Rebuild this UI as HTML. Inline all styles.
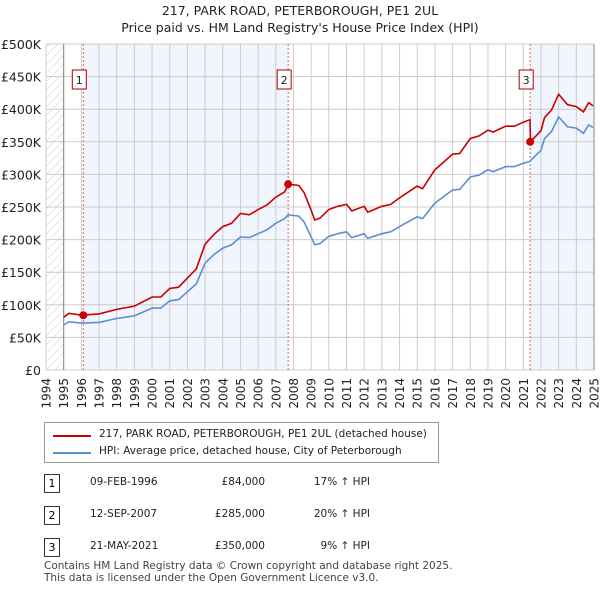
<!DOCTYPE html>
<html><head><meta charset="utf-8"><style>
body{margin:0;background:#fff;font-family:"DejaVu Sans","Liberation Sans",sans-serif;}
#wrap{position:relative;width:600px;height:590px;overflow:hidden}
.t{position:absolute;font-size:12px;color:#222;white-space:nowrap}
svg text{font-family:"DejaVu Sans","Liberation Sans",sans-serif}
</style></head><body><div id="wrap">
<svg id="chart" width="600" height="590" style="position:absolute;left:0;top:0">
<defs><pattern id="hatch" width="6" height="6" patternUnits="userSpaceOnUse" patternTransform="rotate(45)"><line x1="0" y1="0" x2="0" y2="6" stroke="#ccc" stroke-width="1"/></pattern></defs>
<text x="300" y="15" text-anchor="middle" font-size="12.5" fill="#222">217, PARK ROAD, PETERBOROUGH, PE1 2UL</text>
<text x="300" y="32" text-anchor="middle" font-size="12.5" fill="#222">Price paid vs. HM Land Registry's House Price Index (HPI)</text>
<g id="plot"></g>
</svg>
<div style="position:absolute;left:44px;top:422px;width:393px;height:39px;border:1px solid #999;background:#fff">
<div style="position:absolute;left:8px;top:12px;width:38px;height:2px;background:#cc0000"></div>
<div class="t" style="left:54px;top:5px;font-size:10.5px">217, PARK ROAD, PETERBOROUGH, PE1 2UL (detached house)</div>
<div style="position:absolute;left:8px;top:29px;width:38px;height:2px;background:#5b8fd4"></div>
<div class="t" style="left:54px;top:22px;font-size:10.5px">HPI: Average price, detached house, City of Peterborough</div>
</div>
<div id="rows"></div>
<div class="t" style="left:44px;top:560px;font-size:10.5px;color:#444;line-height:12px">Contains HM Land Registry data © Crown copyright and database right 2025.<br>This data is licensed under the Open Government Licence v3.0.</div>
</div>
<script>
const years=[1995.0,1995.3,1996,1997,1998,1999,2000,2000.5,2001,2001.5,2002,2002.5,2003,2003.5,2004,2004.5,2005,2005.5,2006,2006.5,2007,2007.5,2007.7,2008.3,2008.6,2009.0,2009.2,2009.5,2010,2010.5,2011,2011.3,2012,2012.2,2013,2013.5,2014,2015,2015.3,2016,2017,2017.4,2018,2018.5,2019,2019.3,2020,2020.5,2021,2021.38,2021.4,2022,2022.2,2022.6,2023,2023.5,2024,2024.4,2024.7,2024.95];
const hpi=[69,74,72,73,79,83,95,95,106,108,120,132,164,177,187,192,204,203,209,215,225,232,238,236,227,204,192,194,205,209,212,203,209,202,209,212,220,235,232,256,276,277,296,299,307,304,312,312,317,320,321,337,355,366,388,373,371,363,376,372];
const property=[81,87,84,86,93,98,112,112,125,127,141,155,193,208,220,225,240,238,246,253,265,273,285,283,272,245,230,233,246,251,254,244,251,242,251,254,264,282,278,307,331,332,355,359,368,365,374,374,380,384,350,367,387,399,423,407,404,396,410,405];
const saleYears=[1996.11,2007.7,2021.39];
const salePrices=[84,285,350];
const saleLabels=["1","2","3"];
const saleDates=["09-FEB-1996","12-SEP-2007","21-MAY-2021"];
const salePriceText=["£84,000","£285,000","£350,000"];
const saleHpi=["17% ↑ HPI","20% ↑ HPI","9% ↑ HPI"];
const yTicks=[0,50,100,150,200,250,300,350,400,450,500];
const yLabels=["£0","£50K","£100K","£150K","£200K","£250K","£300K","£350K","£400K","£450K","£500K"];
const x0=46,x1=594,y0=370,y1=44;
const X=y=>x0+(y-1994)/31*(x1-x0);
const Y=v=>y0-v/500*(y0-y1);
const NS="http://www.w3.org/2000/svg";
const g=document.getElementById('plot');
function mk(t,a,p){const e=document.createElementNS(NS,t);for(const k in a)e.setAttribute(k,a[k]);(p||g).appendChild(e);return e;}
let e=mk('rect',{x:X(1994),y:y1,width:X(1995)-X(1994),height:y0-y1,fill:'url(#hatch)'});


e=mk('rect',{x:X(saleYears[0]),y:y1,width:X(saleYears[1])-X(saleYears[0]),height:y0-y1,fill:'#eef3fc',opacity:0.8});


e=mk('rect',{x:X(saleYears[2]),y:y1,width:x1-X(saleYears[2]),height:y0-y1,fill:'#eef3fc',opacity:0.8});


for(let yr=1994;yr<=2025;yr++){
 e=mk('line',{x1:X(yr),x2:X(yr),y1:y1,y2:y0,stroke:'#ccc','stroke-width':1});
 
 
 const tx=X(yr)+4.5,ty=y0+8;
 e=mk('text',{x:tx,y:ty,transform:`rotate(-90 ${tx} ${ty})`,'text-anchor':'end','font-size':12,fill:'#222'});
 e.textContent=yr;
 
 
}
yTicks.forEach((v,i)=>{
 e=mk('line',{x1:x0,x2:x1,y1:Y(v),y2:Y(v),stroke:'#ccc','stroke-width':1});
 
 
 e=mk('text',{x:41,y:Y(v)+5,'text-anchor':'end','font-size':12.5,fill:'#222'});
 e.textContent=yLabels[i];
 
 
});
e=mk('line',{x1:X(1995),x2:X(1995),y1:y1,y2:y0,stroke:'#888','stroke-width':1});


e=mk('line',{x1:x1,x2:x1,y1:y1,y2:y0,stroke:'#888','stroke-width':1});


saleYears.forEach((s,i)=>{
 e=mk('line',{x1:X(s),x2:X(s),y1:y1,y2:y0,stroke:'#e06060','stroke-width':1,'stroke-dasharray':'2,2'});
 
 
});
const pts=a=>a.map((v,i)=>X(years[i]).toFixed(1)+','+Y(v).toFixed(1)).join(' ');
e=mk('polyline',{points:pts(hpi),fill:'none',stroke:'#5b8fd4','stroke-width':1.6});


e=mk('polyline',{points:pts(property),fill:'none',stroke:'#cc0000','stroke-width':1.6});


saleYears.forEach((s,i)=>{
 e=mk('circle',{cx:X(s),cy:Y(salePrices[i]),r:4,fill:'#cc0000'});
 
 
 e=mk('rect',{x:X(s)-11,y:70,width:14,height:19,fill:'#fff',stroke:'#aa0000','stroke-width':1});
 
 
 e=mk('text',{x:X(s)-4,y:84,'text-anchor':'middle','font-size':11,fill:'#222'});
 e.textContent=saleLabels[i];
 
 
});
const rows=document.getElementById('rows');
saleLabels.forEach((l,i)=>{
 const top=474+i*32;
 const r=document.createElement('div');
 
 
 r.innerHTML=`<div style="position:absolute;left:44px;top:${top}px;width:14px;height:17px;border:1px solid #333;font-size:11px;text-align:center;line-height:17px">${l}</div>
 <div class="t" style="left:90px;top:${top+2}px;font-size:10.5px">${saleDates[i]}</div>
 <div class="t" style="left:195px;top:${top+2}px;width:70px;text-align:right;font-size:10.5px">${salePriceText[i]}</div>
 <div class="t" style="left:285px;top:${top+2}px;width:85px;text-align:right;font-size:10.5px">${saleHpi[i]}</div>`;
 rows.appendChild(r);
});
</script>
</body></html>
